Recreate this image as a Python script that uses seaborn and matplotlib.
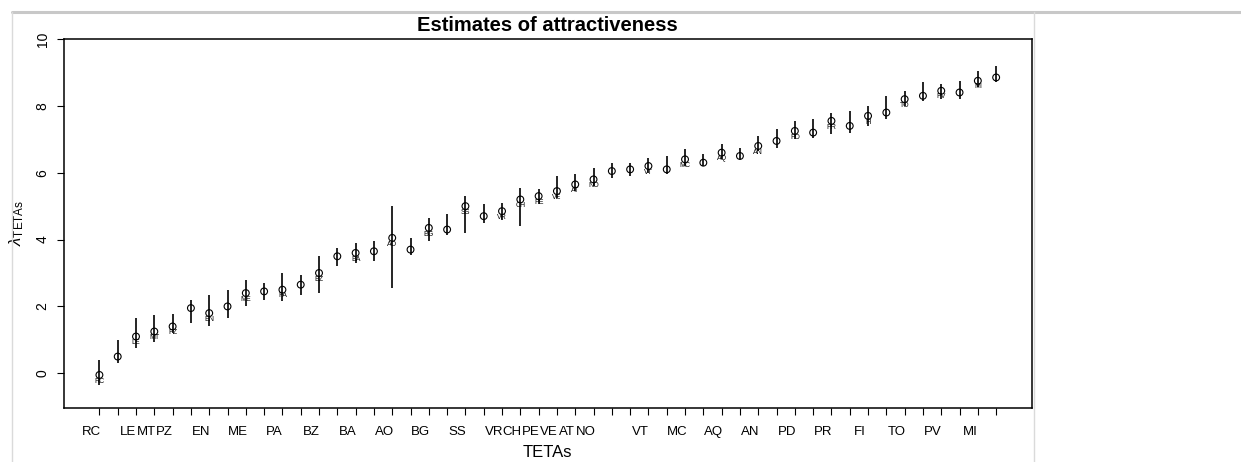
import numpy as np
import pandas as pd
import matplotlib.pyplot as plt
import matplotlib.transforms as mtransforms
from matplotlib.lines import Line2D
import seaborn as sns

# ─────────────────────────────────────────────
# DATA
# ─────────────────────────────────────────────
# tick labels: R only printed the ones that did not overlap, the rest stay blank
teta_labels = ["RC", "", "LE", "MT", "PZ", "", "EN", "", "ME", "",
               "PA", "", "BZ", "", "BA", "", "AO", "", "BG", "",
               "SS", "", "VR", "CH", "PE", "VE", "AT", "NO", "", "",
               "VT", "", "MC", "", "AQ", "", "AN", "", "PD", "",
               "PR", "", "FI", "", "TO", "", "PV", "", "MI", ""]

estimate = [-0.05, 0.50, 1.10, 1.25, 1.40, 1.95, 1.80, 2.00, 2.40, 2.45,
            2.50, 2.65, 3.00, 3.50, 3.60, 3.65, 4.05, 3.70, 4.35, 4.30,
            5.00, 4.70, 4.85, 5.20, 5.30, 5.45, 5.65, 5.80, 6.05, 6.10,
            6.20, 6.10, 6.40, 6.30, 6.60, 6.50, 6.80, 6.95, 7.25, 7.20,
            7.55, 7.40, 7.70, 7.80, 8.20, 8.30, 8.45, 8.40, 8.75, 8.85]

ci_lower = [-0.35, 0.30, 0.75, 0.95, 1.20, 1.50, 1.42, 1.65, 2.00, 2.20,
            2.15, 2.35, 2.40, 3.20, 3.30, 3.35, 2.55, 3.55, 3.95, 4.15,
            4.20, 4.50, 4.60, 4.40, 5.05, 5.25, 5.45, 5.60, 5.85, 5.90,
            6.00, 5.95, 6.20, 6.20, 6.40, 6.40, 6.65, 6.75, 7.00, 7.05,
            7.15, 7.20, 7.40, 7.60, 8.00, 8.15, 8.20, 8.20, 8.55, 8.70]

ci_upper = [0.40, 1.00, 1.65, 1.75, 1.78, 2.20, 2.35, 2.50, 2.80, 2.70,
            3.00, 2.95, 3.50, 3.75, 3.90, 3.95, 5.00, 4.05, 4.65, 4.75,
            5.30, 5.05, 5.10, 5.55, 5.50, 5.90, 5.95, 6.15, 6.30, 6.30,
            6.45, 6.50, 6.70, 6.55, 6.85, 6.75, 7.10, 7.30, 7.55, 7.60,
            7.80, 7.85, 8.00, 8.30, 8.45, 8.70, 8.65, 8.75, 9.05, 9.20]

y_ticks = [0, 2, 4, 6, 8, 10]

# ─────────────────────────────────────────────
# STYLE
# ─────────────────────────────────────────────
sns.set_style("white")
plt.rcParams["font.family"] = ["Liberation Sans Narrow", "Liberation Sans", "DejaVu Sans"]
plt.rcParams.update({"text.color": "black", "axes.labelcolor": "black",
                     "xtick.color": "black", "ytick.color": "black",
                     "mathtext.fontset": "custom",
                     "mathtext.rm": "Liberation Sans",
                     "mathtext.it": "Liberation Sans:italic"})

df = pd.DataFrame({"pos": np.arange(1, len(estimate) + 1),
                   "est": estimate, "lo": ci_lower, "hi": ci_upper,
                   "name": teta_labels})

fig = plt.figure(figsize=(12.41, 4.62), dpi=100)
ax = fig.add_axes([0.0512, 0.1175, 0.7804, 0.7981])

# intervals + point estimates
ax.vlines(df["pos"], df["lo"], df["hi"], color="black", linewidth=1.2)
sns.scatterplot(data=df, x="pos", y="est", ax=ax, marker="o", s=24,
                facecolor="none", edgecolor="black", linewidth=0.8, zorder=3)

# tiny name tags next to the points
for _, r in df.iterrows():
    if r["name"]:
        ax.text(r["pos"], r["est"] - 0.08, r["name"], fontsize=5,
                color="black", ha="center", va="top")

# ── axes ─────────────────────────────────────
ax.set_xlim(-0.96, 51.96)
ax.set_ylim(-1.03, 10.0)
ax.set_xticks(df["pos"])
ax.set_xticklabels(teta_labels, fontsize=9.5)
ax.set_yticks(y_ticks)
ax.set_yticklabels([str(v) for v in y_ticks], fontsize=10, rotation=90, va="center")
ax.tick_params(direction="out", length=5, width=0.8, color="black",
               labelcolor="black", bottom=True, left=True, pad=5)
ax.tick_params(axis="x", pad=8)

# labels in the original sit a bit left of their ticks
shift = mtransforms.ScaledTranslation(-8 / 100, 0, fig.dpi_scale_trans)
for lbl in ax.get_xticklabels():
    lbl.set_transform(lbl.get_transform() + shift)

for s in ax.spines.values():
    s.set_visible(True)
    s.set_color("black")
    s.set_linewidth(1.1)

ax.set_title("Estimates of attractiveness", fontsize=14.5, fontweight="bold",
             family="Liberation Sans", color="black", pad=5.5)
ax.set_xlabel("TETAs", fontsize=12, labelpad=5)
ax.set_ylabel(r"$\lambda_{\mathrm{TETAs}}$", fontsize=12, labelpad=7)

# screenshot frame lines
fig.add_artist(Line2D([12 / 1241, 1], [1 - 12 / 462] * 2, color="#c8c8c8",
                      lw=2.2, transform=fig.transFigure))
fig.add_artist(Line2D([12 / 1241] * 2, [0, 1 - 12 / 462], color="#dadada",
                      lw=1, transform=fig.transFigure))
fig.add_artist(Line2D([1034 / 1241] * 2, [0, 1 - 12 / 462], color="#dadada",
                      lw=1, transform=fig.transFigure))

fig.savefig("out.png", dpi=100, facecolor="white")
